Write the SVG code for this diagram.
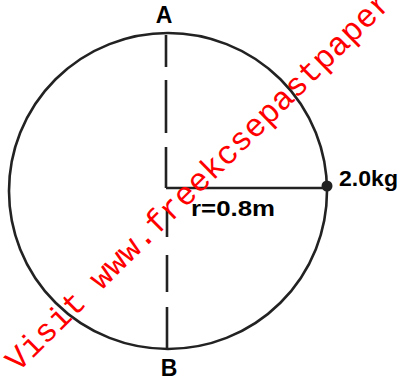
<svg xmlns="http://www.w3.org/2000/svg" width="403" height="385" viewBox="0 0 403 385">
  <style>
    .ln { fill: none; stroke: #222; stroke-width: 2.6; stroke-linecap: butt; }
    .lbl { font-family: "Liberation Sans", Arial, sans-serif; font-weight: bold; fill: #000; }
    .wm { font-family: "Liberation Mono", "Courier New", monospace; fill: #ff0000; font-size: 32.5px; }
  </style>
  <rect x="0" y="0" width="403" height="385" fill="#ffffff"/>
  <g id="circle">
    <ellipse class="ln" cx="168" cy="191" rx="159" ry="158"/>
  </g>
  <g id="connectors">
    <path id="axis-top" class="ln" d="M166 35 V67 M166 80 V133 M166 147 V188"/>
    <path id="radius" class="ln" d="M166 188 H327"/>
    <path id="axis-bottom" class="ln" d="M167 210 V237 M167 255 V292 M167 307 V349"/>
  </g>
  <g id="mass">
    <circle cx="327" cy="186" r="5.5" fill="#222"/>
  </g>
  <g id="label-A"><text class="lbl" x="164" y="23" font-size="23" text-anchor="middle">A</text></g>
  <g id="label-B"><text class="lbl" x="169" y="376" font-size="23" text-anchor="middle">B</text></g>
  <g id="label-mass"><text class="lbl" x="339" y="186" font-size="22.5" textLength="59" lengthAdjust="spacingAndGlyphs">2.0kg</text></g>
  <g id="label-r"><text class="lbl" x="191" y="216" font-size="21.5" textLength="84" lengthAdjust="spacingAndGlyphs">r=0.8m</text></g>
  <g id="watermark">
    <text class="wm" transform="translate(18 372.8) rotate(-44.5)" x="0" y="0">Visit www.freekcsepastpapers</text>
  </g>
</svg>
